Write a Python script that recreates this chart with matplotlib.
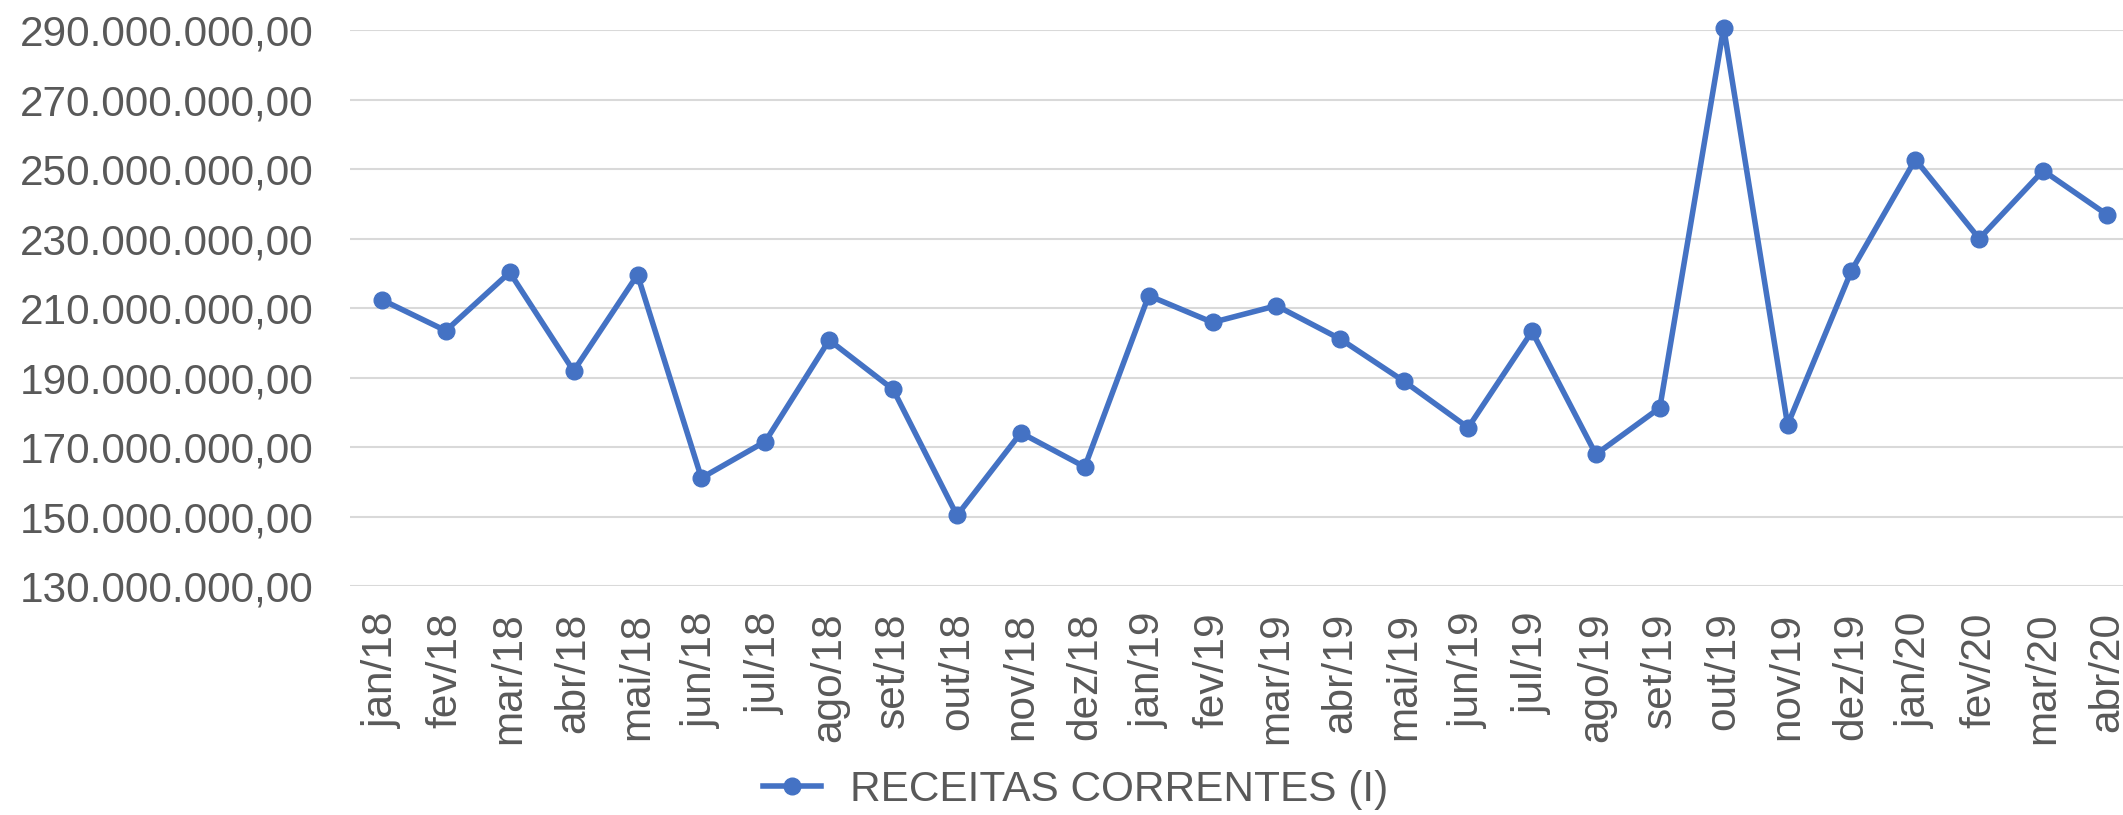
import matplotlib
matplotlib.use("Agg")
import matplotlib.pyplot as plt
from matplotlib.ticker import FuncFormatter

months = ["jan/18", "fev/18", "mar/18", "abr/18", "mai/18", "jun/18", "jul/18",
          "ago/18", "set/18", "out/18", "nov/18", "dez/18",
          "jan/19", "fev/19", "mar/19", "abr/19", "mai/19", "jun/19", "jul/19",
          "ago/19", "set/19", "out/19", "nov/19", "dez/19",
          "jan/20", "fev/20", "mar/20", "abr/20"]
receitas = [212.4e6, 203.5e6, 220.3e6, 191.9e6, 219.6e6, 161.1e6, 171.6e6,
            200.8e6, 186.6e6, 150.3e6, 174.1e6, 164.3e6,
            213.6e6, 205.9e6, 210.7e6, 201.1e6, 188.9e6, 175.6e6, 203.3e6,
            167.9e6, 181.3e6, 290.8e6, 176.4e6, 220.8e6,
            252.8e6, 230.0e6, 249.6e6, 236.9e6]
y_ticks = [130e6, 150e6, 170e6, 190e6, 210e6, 230e6, 250e6, 270e6, 290e6]
series_name = "RECEITAS CORRENTES (I)"

plt.rcParams['font.family'] = ['Liberation Sans', 'DejaVu Sans']
W, H = 2123, 815
fig = plt.figure(figsize=(W / 100, H / 100), dpi=100)
left, right = 350, 2139
top, bottom = 30.3, 586
ax = fig.add_axes([left / W, 1 - bottom / H, (right - left) / W, (bottom - top) / H])

x = list(range(len(months)))
line, = ax.plot(x, receitas, color="#4472C4", lw=4, marker="o", markersize=12,
                label=series_name, solid_joinstyle="round", clip_on=False, zorder=3)

ax.set_xlim(-0.5, len(months) - 0.5)
ax.set_ylim(y_ticks[0], y_ticks[-1])
ax.set_yticks(y_ticks)

def br_fmt(v, pos):
    s = f"{v:,.2f}"
    return s.replace(",", "X").replace(".", ",").replace("X", ".")

ax.yaxis.set_major_formatter(FuncFormatter(br_fmt))
ax.set_xticks(x)
ax.set_xticklabels(months, rotation=90, ha="center", va="top")

ax.grid(axis="y", color="#D9D9D9", lw=1.5)
ax.set_axisbelow(True)
for s in ax.spines.values():
    s.set_visible(False)
ax.tick_params(axis="y", length=0, pad=26, labelsize=30.5, labelcolor="#595959")
ax.tick_params(axis="x", length=0, pad=19, labelsize=30.5, labelcolor="#595959")

fig.legend(handles=[line], labels=[series_name], loc="center",
           bbox_to_anchor=(1076 / W, 1 - 790 / H), frameon=False,
           fontsize=30.5, labelcolor="#595959", handlelength=1.35,
           handletextpad=0.7, borderpad=0)

fig.savefig("out.png", dpi=100)
